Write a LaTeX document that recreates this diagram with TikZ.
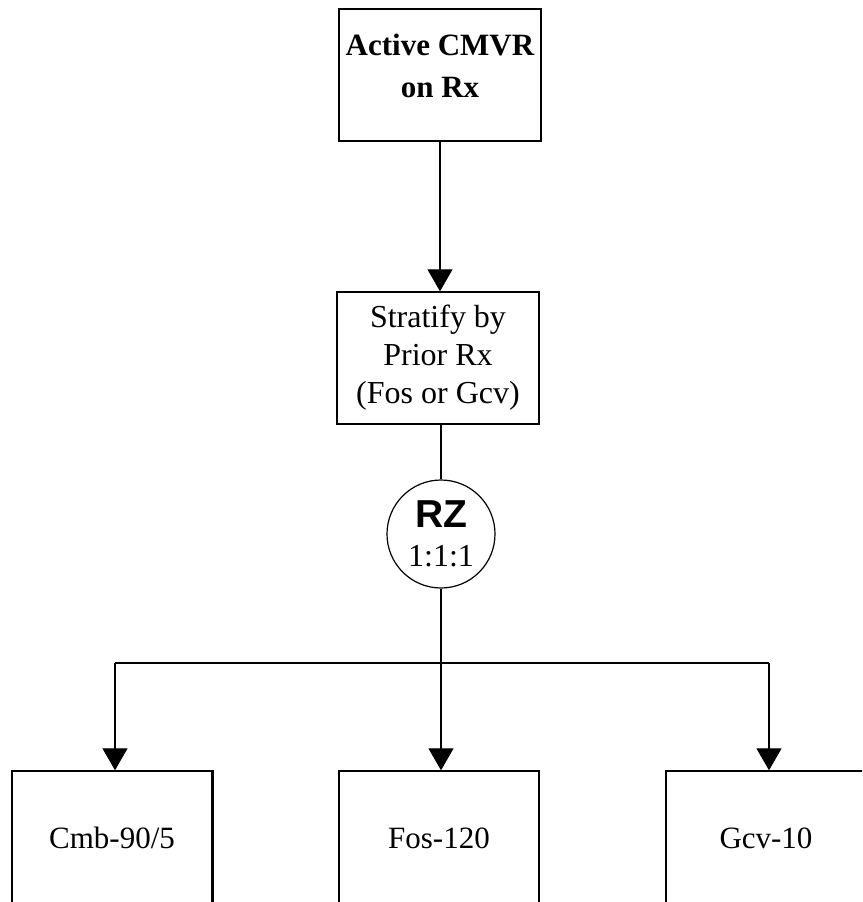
\documentclass[tikz,border=0pt]{standalone}
\usepackage{fontspec}
\setmainfont{Liberation Serif}
\newfontfamily\rzsans{Liberation Sans}
\usetikzlibrary{arrows.meta}
\begin{document}
\begin{tikzpicture}[x=1pt,y=-1pt,
  box/.style={draw, line width=1.4pt, minimum width=202pt, minimum height=132pt, inner sep=0pt, align=center},
  bbox/.style={draw, line width=1.4pt, minimum width=200pt, minimum height=134pt, inner sep=0pt, font=\fontsize{31}{38}\selectfont},
  arr/.style={-{Triangle[length=22pt,width=25pt]}, line width=1.2pt},
  ln/.style={line width=1.2pt}]
\useasboundingbox (0,0) rectangle (862,902);
\clip (0,0) rectangle (862,902);
\node[box, font=\bfseries\fontsize{31}{42}\selectfont, text depth=19pt] (act) at (440,75) {Active CMVR\\on Rx};
\node[box, font=\fontsize{32}{38}\selectfont] (strat) at (438,358) {Stratify by\\Prior Rx\\(Fos or Gcv)};
\node[draw, circle, minimum size=108pt, inner sep=0pt, line width=1.2pt, align=center, font=\fontsize{32}{39}\selectfont] (rz) at (441,534) {{\rzsans\bfseries\fontsize{39}{39}\selectfont RZ}\\1:1:1};
\node[bbox] (cmb) at (112,838) {Cmb-90/5};
\node[bbox] (fos) at (439,838) {Fos-120};
\node[bbox] (gcv) at (766,838) {Gcv-10};
\coordinate (split) at (441,663);
\coordinate (jl) at (115,663);
\coordinate (jr) at (769,663);
\draw[arr] (act.south) -- (act.south |- strat.north);
\draw[ln] (rz.north |- strat.south) -- (rz.north);
\draw[ln] (rz.south) -- (split);
\draw[ln] (jl) -- (jr);
\draw[arr] (jl) -- (jl |- cmb.north);
\draw[arr] (split) -- (split |- fos.north);
\draw[arr] (jr) -- (jr |- gcv.north);
\draw[line width=3pt] (cmb.north east) -- (cmb.south east);
\end{tikzpicture}
\end{document}
